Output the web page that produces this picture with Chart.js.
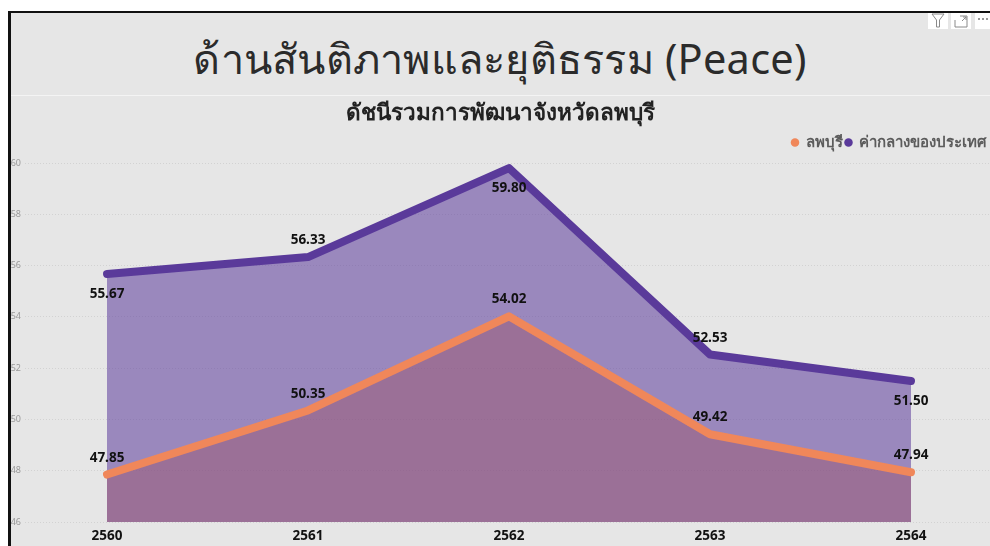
<!DOCTYPE html>
<html>
<head>
<meta charset="utf-8">
<script src="https://cdn.jsdelivr.net/npm/chart.js@4"></script>
<style>
  html, body { margin: 0; padding: 0; background: #fff; width: 990px; height: 546px; overflow: hidden; }
  #panel { position: absolute; left: 8px; top: 11px; width: 982px; height: 535px; background: #e6e6e6;
           border-left: 3px solid #111; border-top: 2px solid #111; box-sizing: border-box; }
  #heading { position: absolute; left: 5px; top: 28px; width: 990px; text-align: center; font-family: "Noto Sans", sans-serif;
             font-size: 41.5px; letter-spacing: 0.25px; line-height: 60px; color: #2b2b2b; white-space: nowrap; }
  #divider { position: absolute; left: 11px; top: 95px; width: 979px; height: 1px; background: #f4f4f4; }
  #myChart { position: absolute; left: 10px; top: 96px; }
  .icon { position: absolute; top: 13px; height: 16px; background: #fff; }
</style>
</head>
<body>
<div id="panel"></div>
<div id="heading">ด้านสันติภาพและยุติธรรม (Peace)</div>
<div id="divider"></div>
<div class="icon" style="left:928px;width:20px">
  <svg width="20" height="16"><path d="M4 1 H16 L11.5 7 V14 H8.5 V7 Z" fill="none" stroke="#8a8a8a"/></svg>
</div>
<div class="icon" style="left:951px;width:20px">
  <svg width="20" height="16"><path d="M4 7 V14 H16 V3 H9 M11 8 L15 4 M12 4 H15 V7" fill="none" stroke="#8a8a8a"/></svg>
</div>
<div class="icon" style="left:975px;width:15px">
  <svg width="15" height="16"><circle cx="4" cy="6" r="1" fill="#777"/><circle cx="8" cy="6" r="1" fill="#777"/><circle cx="12" cy="6" r="1" fill="#777"/></svg>
</div>
<canvas id="myChart" width="980" height="450"></canvas>
<script>
const years = ['2560', '2561', '2562', '2563', '2564'];
const lopburi = [47.85, 50.35, 54.02, 49.42, 47.94];
const national = [55.67, 56.33, 59.80, 52.53, 51.50];
const lopburiLabelSide = ['above', 'above', 'above', 'above', 'above'];
const nationalLabelSide = ['below', 'above', 'below', 'above', 'below'];
const yTicks = [46, 48, 50, 52, 54, 56, 58, 60];

const thaiFont = '"Noto Sans", sans-serif';

function toPoints(values) {
  return values.map((v, i) => ({ x: Number(years[i]), y: v }));
}

// draws the value labels, the datalabels plugin is not available here
const valueLabels = {
  id: 'valueLabels',
  afterDatasetsDraw(chart) {
    const c = chart.ctx;
    c.save();
    c.font = 'bold 13.5px ' + thaiFont;
    c.fillStyle = '#111';
    c.textAlign = 'center';
    chart.data.datasets.forEach((ds, d) => {
      chart.getDatasetMeta(d).data.forEach((pt, i) => {
        const below = ds.labelSide[i] === 'below';
        c.textBaseline = below ? 'top' : 'bottom';
        c.fillText(ds.data[i].y.toFixed(2), pt.x, pt.y + (below ? 13 : -10));
      });
    });
    c.restore();
  }
};

// legend padding is small, so keep some room under it
const legendGap = {
  id: 'legendGap',
  beforeLayout(chart) {
    if (chart.legend.gapAdded) return;
    const fit = chart.legend.fit;
    chart.legend.fit = function () {
      fit.call(this);
      this.height += 3;
    };
    chart.legend.gapAdded = true;
  }
};

new Chart(document.getElementById('myChart').getContext('2d'), {
  type: 'line',
  data: {
    datasets: [
      {
        label: 'ลพบุรี',
        data: toPoints(lopburi),
        labelSide: lopburiLabelSide,
        borderColor: '#f0875a',
        backgroundColor: '#f0875a',
        fill: { target: 'origin', above: 'rgba(155,87,113,0.5)' },
        borderWidth: 8,
        borderCapStyle: 'round',
        borderJoinStyle: 'round',
        tension: 0,
        clip: false,
        pointRadius: 0
      },
      {
        label: 'ค่ากลางของประเทศ',
        data: toPoints(national),
        labelSide: nationalLabelSide,
        borderColor: '#5a3a9a',
        backgroundColor: '#5a3a9a',
        fill: { target: 'origin', above: 'rgba(91,58,155,0.55)' },
        borderWidth: 8,
        borderCapStyle: 'round',
        borderJoinStyle: 'round',
        tension: 0,
        clip: false,
        pointRadius: 0
      }
    ]
  },
  options: {
    responsive: false,
    animation: false,
    layout: { padding: { top: 4, left: 0, right: 0, bottom: 0 } },
    plugins: {
      title: {
        display: true,
        text: 'ดัชนีรวมการพัฒนาจังหวัดลพบุรี',
        color: '#222',
        font: { family: thaiFont, size: 22.5, weight: 'bold' },
        padding: { top: 0, bottom: 5 }
      },
      legend: {
        display: true,
        position: 'top',
        align: 'end',
        labels: {
          usePointStyle: true,
          pointStyle: 'circle',
          boxWidth: 6,
          boxHeight: 6,
          padding: 3,
          color: '#5c5c5c',
          font: { family: thaiFont, size: 15, weight: 'bold' },
          generateLabels(chart) {
            return Chart.defaults.plugins.legend.labels.generateLabels(chart).map(l => ({ ...l, lineWidth: 0 }));
          }
        }
      },
      tooltip: { enabled: false }
    },
    scales: {
      x: {
        type: 'linear',
        min: 2559.592,
        max: 2564.393,
        afterBuildTicks(axis) { axis.ticks = years.map(y => ({ value: Number(y) })); },
        afterFit(axis) { axis.height = 24; },
        grid: { display: false, drawTicks: false },
        border: { display: false },
        ticks: {
          autoSkip: false,
          maxRotation: 0,
          padding: 6,
          color: '#111',
          font: { family: thaiFont, size: 13.5, weight: 'bold' },
          callback: value => String(value)
        }
      },
      y: {
        min: 46,
        max: 60,
        afterBuildTicks(axis) { axis.ticks = yTicks.map(v => ({ value: v })); },
        afterFit(axis) { axis.width = 15; },
        grid: { color: '#d2d2d2', drawTicks: false },
        border: { display: false, dash: [1, 2] },
        ticks: {
          padding: 4,
          color: '#9a9a9a',
          font: { family: thaiFont, size: 9 }
        }
      }
    }
  },
  plugins: [valueLabels, legendGap]
});
</script>
</body>
</html>
